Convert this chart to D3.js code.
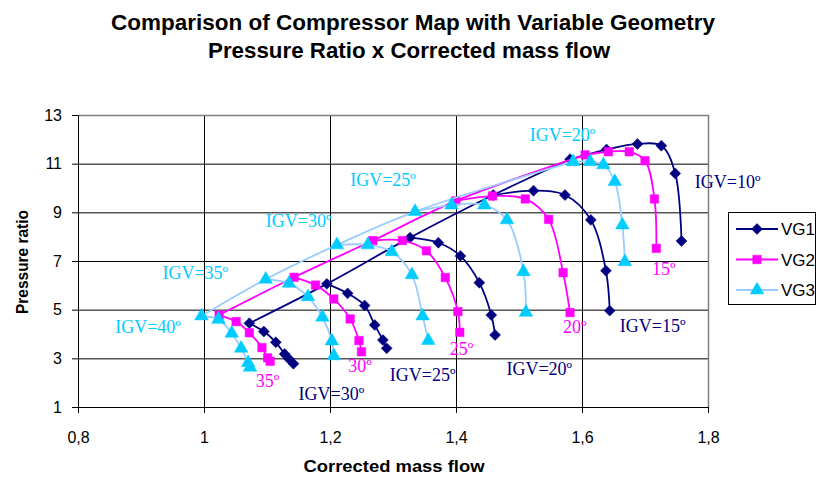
<!DOCTYPE html>
<html><head><meta charset="utf-8">
<script src="https://cdn.jsdelivr.net/npm/d3@7"></script>
<style>body{margin:0;background:#fff;}svg{display:block;}</style>
</head><body><svg id="c" width="820" height="479"></svg>
<script>
// ---------- DATA ----------
const xTicks = [0.8, 1.0, 1.2, 1.4, 1.6, 1.8];
const yTicks = [1, 3, 5, 7, 9, 11, 13];
const seriesNames = ["VG1", "VG2", "VG3"];

// VG1 (navy diamonds)
const vg1Surge = [[1.072,4.44],[1.195,6.06],[1.327,7.96],[1.459,9.71],[1.581,11.18]];
const vg1Igv30 = [[1.072,4.44],[1.095,4.10],[1.114,3.66],[1.128,3.18],[1.135,2.97],[1.142,2.78]];
const vg1Igv25 = [[1.195,6.06],[1.228,5.67],[1.255,5.17],[1.271,4.37],[1.284,3.75],[1.290,3.41]];
const vg1Igv20 = [[1.327,7.96],[1.372,7.75],[1.407,7.21],[1.437,6.11],[1.456,4.78],[1.462,3.96]];
const vg1Igv15 = [[1.459,9.71],[1.523,9.89],[1.573,9.71],[1.614,8.69],[1.638,6.60],[1.644,4.96]];
const vg1Igv10 = [[1.581,11.18],[1.639,11.58],[1.688,11.81],[1.726,11.74],[1.748,10.60],[1.758,7.82]];

// VG2 (magenta squares)
const vg2Surge = [[1.024,4.78],[1.143,6.33],[1.268,7.84],[1.400,9.47],[1.605,11.36]];
const vg2Igv35 = [[1.024,4.78],[1.051,4.51],[1.072,4.05],[1.092,3.44],[1.101,3.02],[1.105,2.88]];
const vg2Igv30 = [[1.143,6.33],[1.177,6.01],[1.206,5.44],[1.232,4.62],[1.246,3.73],[1.250,3.27]];
const vg2Igv25 = [[1.268,7.84],[1.315,7.84],[1.353,7.42],[1.383,6.32],[1.403,4.92],[1.406,4.07]];
const vg2Igv20 = [[1.400,9.47],[1.458,9.67],[1.510,9.55],[1.547,8.71],[1.570,6.52],[1.581,4.88]];
const vg2Igv15 = [[1.605,11.36],[1.642,11.49],[1.675,11.49],[1.700,11.12],[1.715,9.55],[1.718,7.52]];

// VG3 (cyan triangles)
const vg3Surge = [[0.996,4.74],[1.098,6.25],[1.211,7.66],[1.335,9.03],[1.586,11.08]];
const vg3Igv40 = [[0.996,4.74],[1.023,4.60],[1.044,4.03],[1.059,3.41],[1.070,2.82],[1.073,2.63]];
const vg3Igv35 = [[1.098,6.25],[1.135,6.08],[1.165,5.53],[1.188,4.69],[1.203,3.71],[1.206,3.10]];
const vg3Igv30 = [[1.211,7.66],[1.260,7.66],[1.298,7.38],[1.330,6.43],[1.347,4.74],[1.356,3.73]];
const vg3Igv25 = [[1.335,9.03],[1.393,9.30],[1.445,9.30],[1.481,8.69],[1.507,6.56],[1.511,4.89]];
const vg3Igv20 = [[1.586,11.08],[1.613,11.08],[1.634,10.95],[1.652,10.26],[1.664,8.48],[1.668,6.97]];

// annotation labels: [text, x, y] in data units (left / baseline)
const vg1Labels = [["IGV=10º",1.779,10.00],["IGV=15º",1.660,4.08],["IGV=20º",1.480,2.32],["IGV=25º",1.295,2.07],["IGV=30º",1.150,1.29]];
const vg2Labels = [["15º",1.711,6.43],["20º",1.570,4.04],["25º",1.390,3.14],["30º",1.229,2.44],["35º",1.082,1.82]];
const vg3Labels = [["IGV=40º",0.859,4.03],["IGV=35º",0.934,6.25],["IGV=30º",1.098,8.39],["IGV=25º",1.232,10.08],["IGV=20º",1.517,11.95]];

// ---------- CHART ----------
const svg = d3.select("#c");
const x = d3.scaleLinear().domain([0.8, 1.8]).range([78, 708]);
const y = d3.scaleLinear().domain([1, 13]).range([407, 115]);

const squareDiamond = {
  draw(ctx, size) {
    const r = Math.sqrt(size / 2);
    ctx.moveTo(0, -r); ctx.lineTo(r, 0); ctx.lineTo(0, r); ctx.lineTo(-r, 0); ctx.closePath();
  }
};

const series = [
  {name: seriesNames[0], lines: [vg1Surge, vg1Igv30, vg1Igv25, vg1Igv20, vg1Igv15, vg1Igv10],
   pts: [vg1Igv30, vg1Igv25, vg1Igv20, vg1Igv15, vg1Igv10], line: "#000080", fill: "#000080", sym: squareDiamond, size: 60, labels: vg1Labels, lc: "#000080"},
  {name: seriesNames[1], lines: [vg2Surge, vg2Igv35, vg2Igv30, vg2Igv25, vg2Igv20, vg2Igv15],
   pts: [vg2Igv35, vg2Igv30, vg2Igv25, vg2Igv20, vg2Igv15], line: "#FF00FF", fill: "#FF00FF", sym: d3.symbolSquare, size: 72, labels: vg2Labels, lc: "#FF00FF"},
  {name: seriesNames[2], lines: [vg3Surge, vg3Igv40, vg3Igv35, vg3Igv30, vg3Igv25, vg3Igv20],
   pts: [vg3Igv40, vg3Igv35, vg3Igv30, vg3Igv25, vg3Igv20], line: "#99CCFF", fill: "#00CCFF", sym: d3.symbolTriangle, size: 80, labels: vg3Labels, lc: "#00CCFF"}
];

// title
svg.append("text").attr("x", 413).attr("y", 30).attr("text-anchor", "middle")
  .attr("font-family", "Liberation Sans, Arial, sans-serif").attr("font-weight", "bold").attr("font-size", 22)
  .attr("textLength", 604).attr("lengthAdjust", "spacingAndGlyphs")
  .text("Comparison of Compressor Map with Variable Geometry");
svg.append("text").attr("x", 409).attr("y", 58).attr("text-anchor", "middle")
  .attr("font-family", "Liberation Sans, Arial, sans-serif").attr("font-weight", "bold").attr("font-size", 22)
  .attr("textLength", 402).attr("lengthAdjust", "spacingAndGlyphs")
  .text("Pressure Ratio x Corrected mass flow");

// gridlines
const grid = svg.append("g");
grid.append("g").attr("transform", "translate(0,407)")
  .call(d3.axisBottom(x).tickValues(xTicks).tickSize(-292).tickFormat(""))
  .call(g => g.select(".domain").remove())
  .call(g => g.selectAll("line").attr("stroke", "#000").attr("stroke-width", 1));
grid.append("g").attr("transform", "translate(78,0)")
  .call(d3.axisLeft(y).tickValues(yTicks).tickSize(-630).tickFormat(""))
  .call(g => g.select(".domain").remove())
  .call(g => g.selectAll("line").attr("stroke", "#000").attr("stroke-width", 1));

// plot border (top/right gray)
svg.append("path").attr("d", `M78,115.5H708.5V407`).attr("fill", "none").attr("stroke", "#808080").attr("stroke-width", 1.5);

// axes
const xAxis = svg.append("g").attr("transform", "translate(0,407)")
  .call(d3.axisBottom(x).tickValues(xTicks).tickSize(6).tickPadding(19)
    .tickFormat(d => d3.format(".1f")(d).replace(".0", "").replace(".", ",")));
xAxis.selectAll("text").attr("font-family", "Liberation Sans, Arial, sans-serif").attr("font-size", 16).attr("fill", "#000");
xAxis.selectAll("line,path").attr("stroke", "#000");
const yAxis = svg.append("g").attr("transform", "translate(78,0)")
  .call(d3.axisLeft(y).tickValues(yTicks).tickSize(6).tickPadding(10).tickFormat(d3.format("d")));
yAxis.selectAll("text").attr("font-family", "Liberation Sans, Arial, sans-serif").attr("font-size", 16).attr("fill", "#000");
yAxis.selectAll("line,path").attr("stroke", "#000");

// axis titles
svg.append("text").attr("x", 394).attr("y", 472).attr("text-anchor", "middle")
  .attr("font-family", "Liberation Sans, Arial, sans-serif").attr("font-weight", "bold").attr("font-size", 16)
  .attr("textLength", 181).attr("lengthAdjust", "spacingAndGlyphs").text("Corrected mass flow");
svg.append("text").attr("transform", "translate(28,262) rotate(-90)").attr("text-anchor", "middle")
  .attr("font-family", "Liberation Sans, Arial, sans-serif").attr("font-weight", "bold").attr("font-size", 16)
  .attr("textLength", 104).attr("lengthAdjust", "spacingAndGlyphs").text("Pressure ratio");

// series
const lineGen = d3.line().x(d => x(d[0])).y(d => y(d[1])).curve(d3.curveCatmullRom.alpha(0.5));
series.forEach(s => {
  const g = svg.append("g");
  s.lines.forEach(arr => g.append("path").attr("d", lineGen(arr)).attr("fill", "none")
    .attr("stroke", s.line).attr("stroke-width", 1.8));
  s.pts.forEach(arr => g.selectAll(null).data(arr).enter().append("path")
    .attr("d", d3.symbol().type(s.sym).size(s.size))
    .attr("transform", d => `translate(${x(d[0])},${y(d[1])})`)
    .attr("fill", s.fill).attr("stroke", s.fill).attr("stroke-width", 0.5));
});

// annotations
series.forEach(s => {
  svg.append("g").selectAll("text").data(s.labels).enter().append("text")
    .attr("x", d => x(d[1])).attr("y", d => y(d[2]))
    .attr("font-family", "Liberation Serif, Times New Roman, serif").attr("font-size", 18)
    .attr("fill", s.lc).text(d => d[0]);
});

// legend
const lg = svg.append("g");
lg.append("rect").attr("x", 728.5).attr("y", 212.5).attr("width", 87).attr("height", 92)
  .attr("fill", "#fff").attr("stroke", "#000").attr("stroke-width", 1);
series.forEach((s, i) => {
  const cy = 229 + i * 30.5;
  lg.append("line").attr("x1", 736).attr("x2", 778).attr("y1", cy).attr("y2", cy)
    .attr("stroke", s.line).attr("stroke-width", 1.8);
  lg.append("path").attr("d", d3.symbol().type(s.sym).size(s.size))
    .attr("transform", `translate(757,${cy})`).attr("fill", s.fill).attr("stroke", s.fill).attr("stroke-width", 0.5);
  lg.append("text").attr("x", 781).attr("y", cy + 6).attr("font-family", "Liberation Sans, Arial, sans-serif")
    .attr("font-size", 17).attr("fill", "#000").text(s.name);
});
</script></body></html>
